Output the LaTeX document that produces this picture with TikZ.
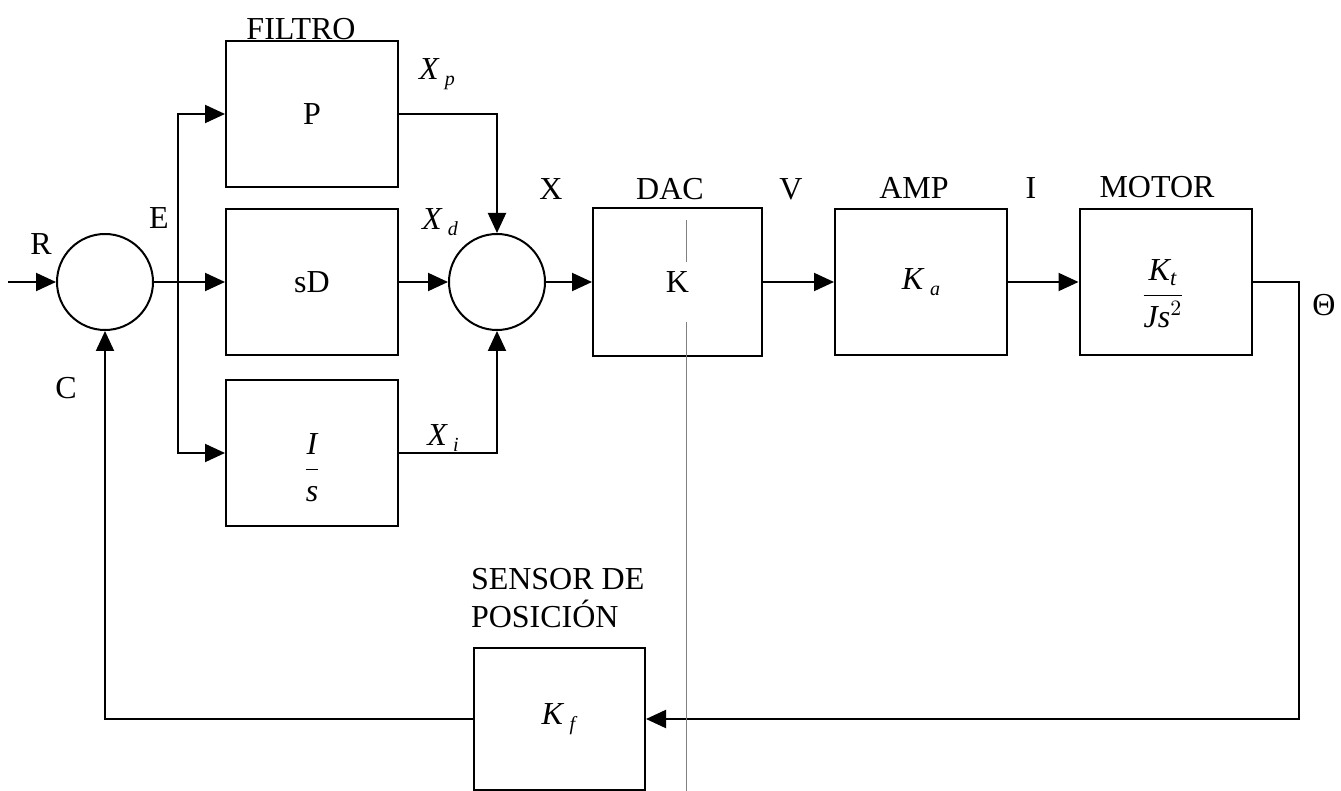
\documentclass[tikz,border=0pt]{standalone}
\usepackage{fontspec,amsmath}
\setmainfont{Liberation Serif}
\usetikzlibrary{arrows.meta}
\newcommand{\lblsub}[2]{\textit{#1}\,\raisebox{-0.45ex}{\fontsize{10}{12}\selectfont\textit{#2}}}

\begin{document}
\begin{tikzpicture}[x=0.5pt,y=-0.5pt,line width=1pt,
  font=\fontsize{16}{19}\selectfont,
  blk/.style={draw,inner sep=0pt,minimum width=86pt,minimum height=73pt},
  sum/.style={draw,circle,inner sep=0pt,minimum size=48pt},
  lbl/.style={inner sep=0pt},
  arr/.style={-{Triangle[length=10pt,width=9pt]}}]
\path[use as bounding box] (0,0) rectangle (1341,791);
% summing junctions
\node[sum] (S1) at (105,282) {};
\node[sum] (S2) at (497,282) {};
% controller branches
\node[blk] (P) at (312,114) {P};
\node[blk] (sD) at (312,282) {sD};
\node[blk] (Is) at (312,453) {};
\node[lbl] (IsTxt) at (312,468) {$\dfrac{\textit{I}}{\textit{s}}$};
% plant
\node[blk,minimum width=84.5pt,minimum height=74pt] (DAC) at (677.5,282) {K};
\node[blk] (AMP) at (921,282) {\lblsub{K}{a}};
\node[blk] (MOT) at (1165.5,282) {};
\node[lbl] (MOTTxt) at (1163,294) {$\dfrac{\textit{K}_{\textit{t}}}{\textit{Js}^{2}}$};
\node[blk,minimum width=85.5pt,minimum height=71pt] (Kf) at (559.5,719) {\lblsub{K}{f}};
% labels
\node[lbl] (lFiltro) at (301,29) {FILTRO};
\node[lbl] (lXp) at (437,74) {\lblsub{X}{p}};
\node[lbl] (lXd) at (440,222) {\lblsub{X}{d}};
\node[lbl] (lXi) at (443,438) {\lblsub{X}{i}};
\node[lbl] (lE) at (159,218) {E};
\node[lbl] (lR) at (41,244) {R};
\node[lbl] (lC) at (66,388) {C};
\node[lbl] (lX) at (551,189) {X};
\node[lbl] (lDAC) at (670,189) {DAC};
\node[lbl] (lV) at (791,189) {V};
\node[lbl] (lAMP) at (914,188) {AMP};
\node[lbl] (lI) at (1031,188) {I};
\node[lbl] (lMotor) at (1157,187) {MOTOR};
\node[lbl] (lTheta) at (1324,305) {Θ};
\node[lbl,anchor=west,align=left] (lSensor) at (470,598) {SENSOR DE\\POSICIÓN};
% connectors
\coordinate (Rin) at (8,282);
\coordinate (Ej) at (178,282);
\coordinate (Tc) at (1299,719);
\draw[arr] (Rin) -- (S1.west);
\draw (S1.east) -- (Ej);
\draw[arr] (Ej) -- (sD.west);
\draw[arr] (Ej) |- (P.west);
\draw[arr] (Ej) |- (Is.west);
\draw[arr] (P.east) -| (S2.north);
\draw[arr] (sD.east) -- (S2.west);
\draw[arr] (Is.east) -| (S2.south);
\draw[arr] (S2.east) -- (DAC.west);
\draw[arr] (DAC.east) -- (AMP.west);
\draw[arr] (AMP.east) -- (MOT.west);
\draw[arr] (MOT.east) -| (Tc) -- (Kf.east);
\draw[arr] (Kf.west) -| (S1.south);
% fold line
\draw[line width=0.4pt,gray] (686,220) -- (686,262) (686,322) -- (686,791);
\end{tikzpicture}
\end{document}
